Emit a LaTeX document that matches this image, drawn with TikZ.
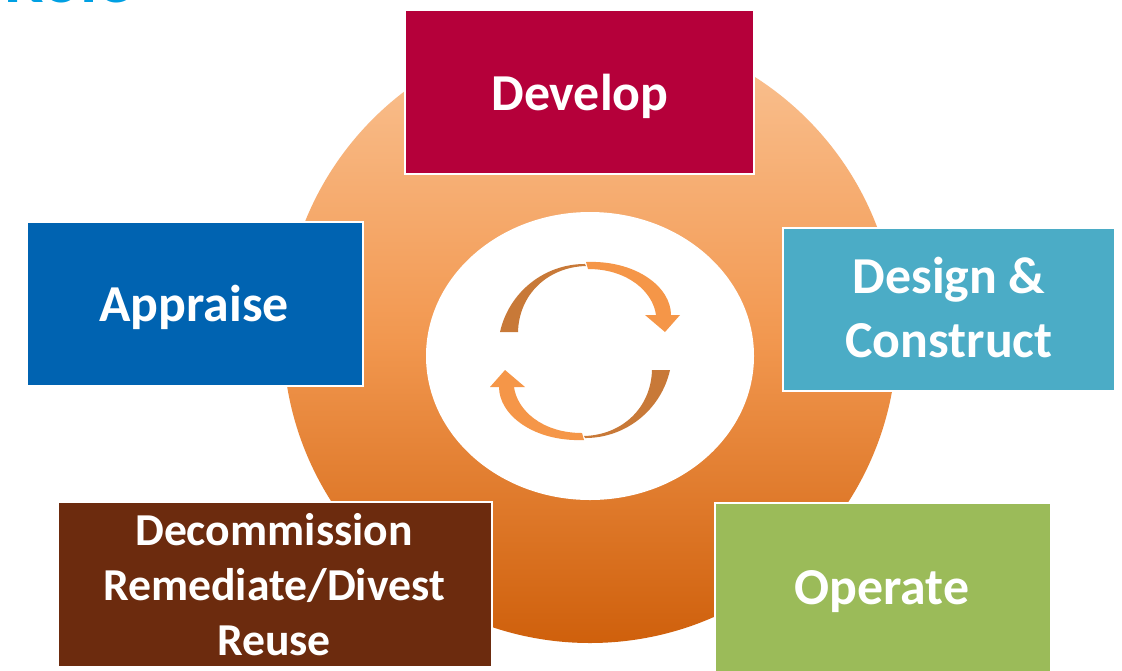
\documentclass[tikz,border=0pt]{standalone}
\usepackage{fontspec}
\setmainfont{Carlito}
\definecolor{titleblue}{RGB}{0,160,227}
\definecolor{ringtop}{RGB}{250,196,150}
\definecolor{ringmid}{RGB}{242,152,80}
\definecolor{ringbot}{RGB}{207,96,12}
\definecolor{arrowdark}{RGB}{200,121,56}
\definecolor{arrowlight}{RGB}{245,150,72}
\definecolor{developred}{RGB}{181,0,58}
\definecolor{appraiseblue}{RGB}{0,99,177}
\definecolor{designteal}{RGB}{75,172,198}
\definecolor{decombrown}{RGB}{108,43,14}
\definecolor{operategreen}{RGB}{155,187,89}
\begin{document}
\begin{tikzpicture}[x=0.02cm,y=-0.02cm,
  stage/.style={draw=white, line width=1.6pt, inner sep=0pt, rectangle},
  bigtext/.style={text=white, font=\fontsize{29.5}{36}\selectfont\bfseries, inner sep=0pt, anchor=base},
  smalltext/.style={text=white, font=\fontsize{26}{32}\selectfont\bfseries, inner sep=0pt, anchor=base}]
\fill[white] (0,0) rectangle (1122,670);
\useasboundingbox (0,0) rectangle (1122,670);
\clip (0,0) rectangle (1122,670);

% heading, mostly above the page
\node[anchor=base west, text=titleblue, inner sep=0pt,
      font=\fontsize{40}{40}\selectfont\bfseries] (title) at (4,2.5) {Role};

% shaded ring behind the stages
\shade[top color=ringtop, bottom color=ringbot, middle color=ringmid]
  (590,336) circle[radius=307];
\fill[white] (590,356) ellipse[x radius=164, y radius=144];

% cycle arrows: one ribbon, and its copy turned half a turn
\newcommand{\cycleribbon}{%
  \fill[arrowlight] (586,262) .. controls (636,260) and (671,287) .. (671,315)
    -- (680,315) -- (665,332) -- (645,315) -- (656,315)
    .. controls (653,292) and (628,269) .. (588,269) -- cycle;
  \fill[arrowdark] (500,332) arc[start angle=192.6, end angle=270, radius=87]
    -- (586,266) .. controls (548,267) and (519,294) .. (518,332) -- cycle;
}
\begin{scope}
  \cycleribbon
\end{scope}
\begin{scope}[rotate around={180:(585,351)}]
  \cycleribbon
\end{scope}

% stage boxes
\node[stage, fill=developred, minimum width=6.98cm, minimum height=3.28cm] (develop) at (579.5,92) {};
\node[stage, fill=appraiseblue, minimum width=6.72cm, minimum height=3.28cm] (appraise) at (195,304) {};
\node[stage, fill=designteal, minimum width=6.64cm, minimum height=3.26cm] (design) at (949,309.5) {};
\node[stage, fill=decombrown, minimum width=8.68cm, minimum height=3.30cm] (decom) at (275,584.5) {};
\node[stage, fill=operategreen, minimum width=6.72cm, minimum height=3.38cm] (operate) at (883,587.5) {};

% stage labels
\node[bigtext] (developtxt) at (580,110) {Develop};
\node[bigtext] (appraisetxt) at (194,321) {Appraise};
\node[bigtext] (designtxtA) at (949,293) {Design \&};
\node[bigtext] (designtxtB) at (949,357) {Construct};
\node[smalltext] (decomtxtA) at (274,545) {Decommission};
\node[smalltext] (decomtxtB) at (274,600) {Remediate/Divest};
\node[smalltext] (decomtxtC) at (274,655) {Reuse};
\node[bigtext] (operatetxt) at (882,604) {Operate};
\end{tikzpicture}
\end{document}
